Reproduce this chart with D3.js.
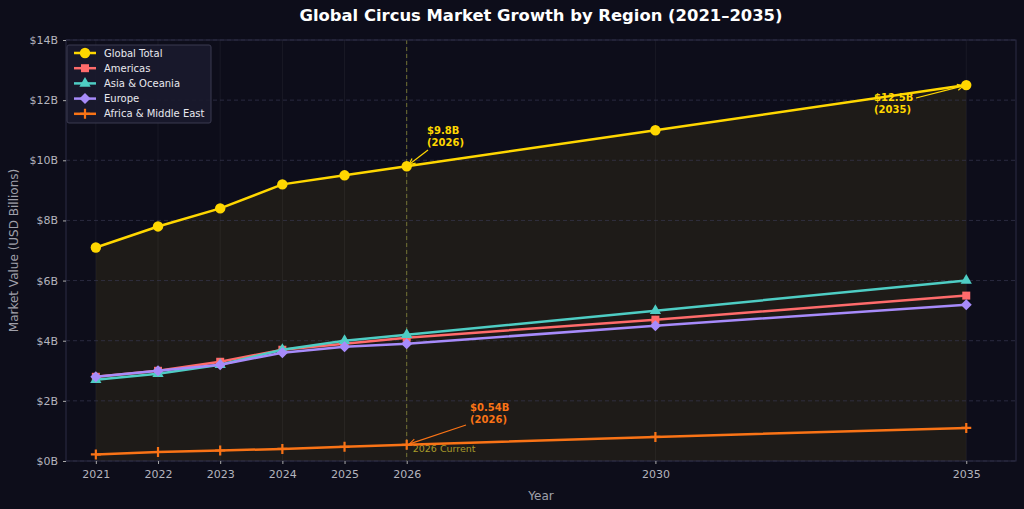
<!DOCTYPE html>
<html lang="en">
<head>
    <meta charset="UTF-8">
    <title>Global Circus Market Growth by Region (2021–2035)</title>
    <script src="https://d3js.org/d3.v7.min.js"></script>
    <style>
        body { margin: 0; background-color: #0d0d1a; }
        svg { display: block; font-family: "DejaVu Sans", sans-serif; }
    </style>
</head>
<body>
    <svg class="chart" width="1024" height="509"></svg>
    <script>
        // Data (USD billions)
        const years = [2021, 2022, 2023, 2024, 2025, 2026, 2030, 2035];
        const globalTotal = [7.1, 7.8, 8.4, 9.2, 9.5, 9.8, 11.0, 12.5];
        const americas = [2.8, 3.0, 3.3, 3.7, 3.9, 4.1, 4.7, 5.5];
        const asiaOceania = [2.7, 2.9, 3.2, 3.7, 4.0, 4.2, 5.0, 6.0];
        const europe = [2.8, 3.0, 3.2, 3.6, 3.8, 3.9, 4.5, 5.2];
        const africaME = [0.22, 0.30, 0.35, 0.40, 0.47, 0.54, 0.80, 1.10];
        const yTicks = [0, 2, 4, 6, 8, 10, 12, 14];

        const series = [
            { name: "Global Total", values: globalTotal, color: "#FFD700", symbol: "circle" },
            { name: "Americas", values: americas, color: "#FF6B6B", symbol: "square" },
            { name: "Asia & Oceania", values: asiaOceania, color: "#4ECDC4", symbol: "triangle" },
            { name: "Europe", values: europe, color: "#A78BFA", symbol: "diamond" },
            { name: "Africa & Middle East", values: africaME, color: "#F97316", symbol: "plus" }
        ];

        const margin = { top: 40, right: 8, bottom: 48, left: 66 },
              width = 1024 - margin.left - margin.right,
              height = 509 - margin.top - margin.bottom;

        const root = d3.select(".chart");
        const svg = root.append("g")
            .attr("transform", `translate(${margin.left},${margin.top})`);

        const x = d3.scaleLinear().domain([2020.52, 2035.8]).range([0, width]);
        const y = d3.scaleLinear().domain([0, 14]).range([height, 0]);

        // plot background
        svg.append("rect")
            .attr("width", width).attr("height", height)
            .attr("fill", "#0d0d1a");

        // fill under global total
        const area = d3.area()
            .x((d, i) => x(years[i]))
            .y0(y(0))
            .y1(d => y(d));
        svg.append("path")
            .datum(globalTotal)
            .attr("d", area)
            .attr("fill", "#FFD700")
            .attr("fill-opacity", 0.07);

        // grid
        svg.selectAll(".vgrid").data(years).enter().append("line")
            .attr("x1", d => x(d)).attr("x2", d => x(d))
            .attr("y1", 0).attr("y2", height)
            .attr("stroke", "#ffffff").attr("stroke-opacity", 0.05)
            .attr("stroke-width", 1);
        svg.selectAll(".hgrid").data(yTicks).enter().append("line")
            .attr("x1", 0).attr("x2", width)
            .attr("y1", d => y(d)).attr("y2", d => y(d))
            .attr("stroke", "#3a3a55").attr("stroke-opacity", 0.8)
            .attr("stroke-dasharray", "4,3")
            .attr("stroke-width", 0.8);

        // "current" marker line
        svg.append("line")
            .attr("x1", x(2026)).attr("x2", x(2026))
            .attr("y1", 0).attr("y2", height)
            .attr("stroke", "#8a8a3a").attr("stroke-opacity", 0.8)
            .attr("stroke-dasharray", "4,3")
            .attr("stroke-width", 1);
        svg.append("text")
            .attr("x", x(2026) + 6).attr("y", y(0) - 9)
            .attr("fill", "#a89a2a")
            .attr("font-size", 9.5)
            .text("2026 Current");

        // spines
        svg.append("rect")
            .attr("width", width).attr("height", height)
            .attr("fill", "none").attr("stroke", "#2c2c44").attr("stroke-width", 1);

        // axes
        const xAxis = svg.append("g")
            .attr("transform", `translate(0,${height})`)
            .call(d3.axisBottom(x).tickValues(years).tickFormat(d3.format("d")).tickSize(3).tickPadding(6));
        const yAxis = svg.append("g")
            .call(d3.axisLeft(y).tickValues(yTicks).tickFormat(d => `$${d}B`).tickSize(3).tickPadding(5));
        [xAxis, yAxis].forEach(g => {
            g.select(".domain").remove();
            g.selectAll(".tick line").attr("stroke", "#aaaaaa");
            g.selectAll(".tick text").attr("fill", "#b4b4be").attr("font-size", 11)
                .attr("font-family", "DejaVu Sans, sans-serif");
        });

        // axis titles
        svg.append("text")
            .attr("x", width / 2).attr("y", height + 39)
            .attr("text-anchor", "middle")
            .attr("fill", "#a0a0aa").attr("font-size", 12)
            .text("Year");
        svg.append("text")
            .attr("transform", `translate(${-48},${height / 2}) rotate(-90)`)
            .attr("text-anchor", "middle")
            .attr("fill", "#a0a0aa").attr("font-size", 12)
            .text("Market Value (USD Billions)");

        // title
        root.append("text")
            .attr("x", margin.left + width / 2).attr("y", 21)
            .attr("text-anchor", "middle")
            .attr("fill", "#ffffff").attr("font-size", 16.4).attr("font-weight", "bold")
            .text("Global Circus Market Growth by Region (2021–2035)");

        const symbolTypes = {
            circle: d3.symbolCircle, square: d3.symbolSquare, triangle: d3.symbolTriangle
        };
        const symbolSizes = { circle: 85, square: 64, triangle: 55 };

        function drawMarker(g, s) {
            if (s.symbol === "plus") {
                g.append("path")
                    .attr("d", "M-5,0H5M0,-5V5")
                    .attr("stroke", s.color).attr("stroke-width", 2.2).attr("fill", "none");
            } else if (s.symbol === "diamond") {
                g.append("path")
                    .attr("d", "M0,-5.5L5.5,0L0,5.5L-5.5,0Z")
                    .attr("fill", s.color);
            } else {
                g.append("path")
                    .attr("d", d3.symbol().type(symbolTypes[s.symbol]).size(symbolSizes[s.symbol])())
                    .attr("fill", s.color);
            }
        }

        // lines and markers in legend order
        const line = d3.line().x((d, i) => x(years[i])).y(d => y(d));
        series.forEach(s => {
            svg.append("path")
                .datum(s.values)
                .attr("d", line)
                .attr("fill", "none")
                .attr("stroke", s.color)
                .attr("stroke-width", 2.5);
            s.values.forEach((v, i) => {
                const g = svg.append("g").attr("transform", `translate(${x(years[i])},${y(v)})`);
                drawMarker(g, s);
            });
        });

        // annotations
        const annotations = [
            { year: 2026, value: globalTotal[5], label: ["$9.8B", "(2026)"], color: "#FFD700", tx: 427, ty: 134, ax: 428, ay: 150 },
            { year: 2026, value: africaME[5], label: ["$0.54B", "(2026)"], color: "#F97316", tx: 470, ty: 411, ax: 466, ay: 425 },
            { year: 2035, value: globalTotal[7], label: ["$12.5B", "(2035)"], color: "#FFD700", tx: 874, ty: 101, ax: 916, ay: 98 }
        ];
        annotations.forEach(a => {
            const px = x(a.year) + margin.left, py = y(a.value) + margin.top;
            const ang = Math.atan2(py - a.ay, px - a.ax);
            const ex = px - Math.cos(ang) * 3, ey = py - Math.sin(ang) * 3;
            root.append("line")
                .attr("x1", a.ax).attr("y1", a.ay).attr("x2", ex).attr("y2", ey)
                .attr("stroke", a.color).attr("stroke-width", 1.2);
            const h = 6, w = 3;
            const bx = ex - Math.cos(ang) * h, by = ey - Math.sin(ang) * h;
            root.append("path")
                .attr("d", `M${bx - Math.sin(ang) * w},${by + Math.cos(ang) * w}L${ex},${ey}L${bx + Math.sin(ang) * w},${by - Math.cos(ang) * w}`)
                .attr("fill", "none").attr("stroke", a.color).attr("stroke-width", 1.2);
            const t = root.append("text")
                .attr("x", a.tx).attr("y", a.ty)
                .attr("fill", a.color).attr("font-size", 10).attr("font-weight", "bold");
            a.label.forEach((l, i) => t.append("tspan").attr("x", a.tx).attr("dy", i === 0 ? 0 : 12).text(l));
        });

        // legend
        const legend = svg.append("g").attr("transform", "translate(1,5)");
        legend.append("rect")
            .attr("width", 144).attr("height", 78).attr("rx", 2)
            .attr("fill", "#1a1a2e").attr("fill-opacity", 0.9)
            .attr("stroke", "#3a3a50").attr("stroke-width", 1);
        series.forEach((s, i) => {
            const g = legend.append("g").attr("transform", `translate(0,${8 + i * 15.2})`);
            g.append("line").attr("x1", 7).attr("x2", 29).attr("stroke", s.color).attr("stroke-width", 2.5);
            const m = g.append("g").attr("transform", "translate(18,0)");
            drawMarker(m, s);
            g.append("text").attr("x", 37).attr("y", 3.5)
                .attr("fill", "#e8e8ee").attr("font-size", 10)
                .text(s.name);
        });
    </script>
</body>
</html>
